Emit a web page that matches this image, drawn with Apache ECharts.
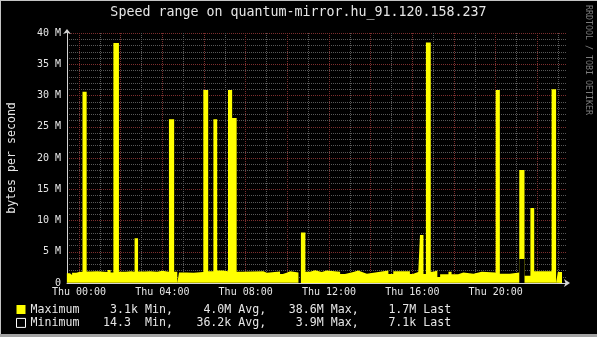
<!DOCTYPE html>
<html><head><meta charset="utf-8">
<script src="https://cdn.jsdelivr.net/npm/echarts@6/dist/echarts.min.js"></script>
<style>html,body{margin:0;padding:0;background:#000;}#c{width:597px;height:337px;}</style>
</head><body><div id="c"></div>
<script>
const titleText = 'Speed range on quantum-mirror.hu_91.120.158.237';
const yAxisName = 'bytes per second';
const creditText = 'RRDTOOL / TOBI OETIKER';
const seriesNames = ['Maximum', 'Minimum'];
const dayName = 'Thu';
// x values: minutes from Thu 00:00
const xMin = -34.6, xMax = 1405.4;
const labelHours = [0, 4, 8, 12, 16, 20];
const yMin = 0, yMax = 40, yStep = 5;
const maxTimes = [-35,-26,-20,-8,0,10,22,35,52,82,91,99,115,135,150,160,170,190,205,225,240,259,274,283,288,310,330,358,372,387,398,415,429,441,454,470,531,541,579,587,598,608,632,639,652,665,680,699,713,752,766,790,804,819,829,867,891,905,953,961,977,982,992,999,1013,1020,1032,1040,1064,1073,1092,1107,1136,1160,1200,1212,1241,1268,1283,1300,1311,1361,1374,1379,1391];
const maxValues = [1.55,1.3,1.65,1.75,1.8,30.6,1.85,1.9,1.75,2.1,1.7,38.4,1.8,1.9,1.8,7.15,1.85,1.9,1.8,1.95,1.8,26.2,1.8,0,1.7,1.65,1.75,30.9,1.9,26.2,2.0,1.9,30.9,26.4,1.8,1.9,1.65,1.85,1.45,1.65,1.9,1.7,0,8.1,1.8,2.05,1.75,2.0,1.8,1.45,1.75,2.0,1.7,1.5,1.8,2.0,1.45,1.9,1.45,1.75,1.5,7.7,1.45,38.5,1.8,2.0,0.95,1.4,1.8,1.4,1.7,1.5,1.8,1.7,30.9,1.5,1.7,18.1,1.15,12.0,1.9,31.0,0,1.75,1.75];
const minTimes = [-35, 283, 288, 632, 639, 1268, 1283, 1374, 1379, 1391];
const minValues = [0.03, 0, 0.03, 0, 0.03, 3.85, 0.03, 0, 0.007, 0.007];
const statLabels = ['Min,', 'Avg,', 'Max,', 'Last'];
const maxStats = ['3.1k', '4.0M', '38.6M', '1.7M'];
const minStats = ['14.3 ', '36.2k', '3.9M', '7.1k'];

const MONO = '"DejaVu Sans Mono", monospace';
const TXT = '#e6e6e6';
const MINOR = '#585858';
const MAJOR = '#7c2e2e';

const evenHours = [], oddHours = [];
for (let h = 0; h <= 23; h++) (h % 2 === 0 ? evenHours : oddHours).push(h * 60);
const pad = n => (n < 10 ? '0' : '') + n;

const chart = echarts.init(document.getElementById('c'), null, {renderer: 'canvas'});

const statX = [145, 238.3, 330.7, 423.3];
const rowsY = [309.5, 323];
const graphics = [
  {type: 'rect', shape: {x: 0, y: 0, width: 597, height: 1}, style: {fill: '#c4c4c4'}},
  {type: 'rect', shape: {x: 0, y: 0, width: 1, height: 337}, style: {fill: '#c4c4c4'}},
  {type: 'rect', shape: {x: 0, y: 334, width: 597, height: 3}, style: {fill: '#a2a2a2'}},
  {type: 'text', x: 588.5, y: 60, rotation: -Math.PI / 2,
   style: {text: creditText, fill: '#7c7c7c', font: '8.3px ' + MONO, textAlign: 'center', textVerticalAlign: 'middle'}}
];
[maxStats, minStats].forEach((row, r) => {
  row.forEach((v, j) => {
    graphics.push({type: 'text', x: statX[j] - 7, y: rowsY[r],
      style: {text: v, fill: TXT, font: '11.6px ' + MONO, textAlign: 'right', textVerticalAlign: 'middle'}});
    graphics.push({type: 'text', x: statX[j], y: rowsY[r],
      style: {text: statLabels[j], fill: TXT, font: '11.6px ' + MONO, textAlign: 'left', textVerticalAlign: 'middle'}});
  });
});

chart.setOption({
  animation: false,
  backgroundColor: '#000',
  title: {text: titleText, left: 'center', top: 6, padding: 0,
    textStyle: {fontFamily: MONO, fontSize: 13.3, fontWeight: 'normal', color: TXT}},
  legend: {
    orient: 'vertical', left: 16, top: 302.8, padding: 0, itemGap: 0,
    itemWidth: 9, itemHeight: 9, icon: 'rect', selectedMode: false,
    textStyle: {fontFamily: MONO, fontSize: 11.6, lineHeight: 13.4, color: TXT},
    data: [
      {name: seriesNames[0], itemStyle: {color: '#ffff00', borderWidth: 0}},
      {name: seriesNames[1], itemStyle: {color: '#000000', borderColor: '#ffffff', borderWidth: 1}}
    ]
  },
  grid: {left: 67, right: 30, top: 33, bottom: 54, containLabel: false, outerBoundsMode: 'none'},
  xAxis: [
    {
      type: 'value', min: xMin, max: xMax,
      axisLine: {show: true, onZero: false, lineStyle: {color: '#d4d4d4', width: 1}, symbol: ['none', 'arrow'], symbolSize: [6, 6], symbolOffset: [0, 3]},
      axisTick: {show: false, customValues: oddHours},
      axisLabel: {customValues: labelHours.map(h => h * 60), margin: 4, color: TXT, fontFamily: MONO, fontSize: 10,
        formatter: v => dayName + ' ' + pad(Math.round(v / 60)) + ':00'},
      splitLine: {show: true, lineStyle: {color: MINOR, width: 1, type: [1, 1]}}
    },
    {
      type: 'value', min: xMin, max: xMax, position: 'bottom',
      axisLine: {show: false, onZero: false}, axisTick: {show: false, customValues: evenHours},
      axisLabel: {show: false},
      splitLine: {show: true, lineStyle: {color: MAJOR, width: 1, type: [1, 1]}}
    }
  ],
  yAxis: {
    type: 'value', min: yMin, max: yMax, interval: yStep,
    name: yAxisName, nameLocation: 'middle', nameGap: 49,
    nameTextStyle: {fontFamily: MONO, fontSize: 11.6, color: TXT},
    axisLine: {show: true, onZero: false, lineStyle: {color: '#d4d4d4', width: 1}, symbol: ['none', 'arrow'], symbolSize: [6, 5], symbolOffset: [0, 4]},
    axisTick: {show: false},
    axisLabel: {margin: 6, color: TXT, fontFamily: MONO, fontSize: 10,
      formatter: v => (v === 0 ? '0' : v + ' M')},
    splitLine: {show: true, lineStyle: {color: MAJOR, width: 1, type: [1, 1]}},
    minorTick: {show: false, splitNumber: 5},
    minorSplitLine: {show: true, lineStyle: {color: MINOR, width: 1, type: [1, 1]}}
  },
  series: [
    {
      name: seriesNames[0], type: 'line', step: 'end', showSymbol: false, symbol: 'none',
      data: maxTimes.map((t, i) => [t, maxValues[i]]),
      lineStyle: {opacity: 0, width: 1}, itemStyle: {color: '#ffff00'},
      areaStyle: {color: '#ffff00', opacity: 1}, z: 2
    },
    {
      name: seriesNames[1], type: 'line', step: 'end', showSymbol: false, symbol: 'none',
      data: minTimes.map((t, i) => [t, minValues[i]]),
      lineStyle: {opacity: 0, width: 1}, itemStyle: {color: '#000000'},
      areaStyle: {color: '#000000', opacity: 1}, z: 3
    }
  ],
  graphic: graphics
});
</script></body></html>
